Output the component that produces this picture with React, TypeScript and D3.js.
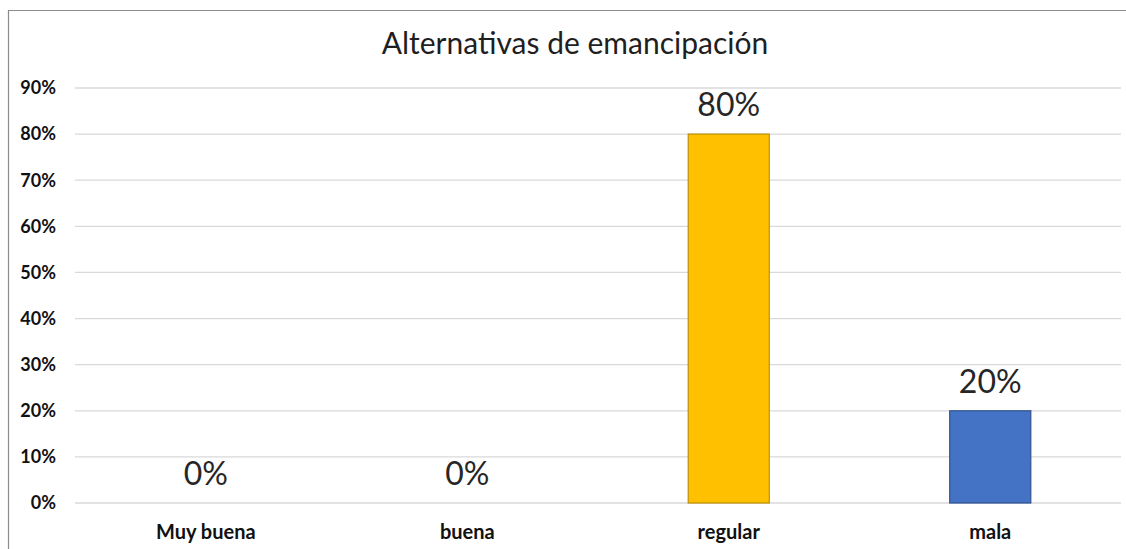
import React from "react";
import * as d3 from "d3";

const categories = ["Muy buena", "buena", "regular", "mala"];
const values = [0, 0, 0.8, 0.2];
const barColors = ["#FFC000", "#4472C4", "#FFC000", "#4472C4"];
const barStrokes = ["#BF9000", "#2F528F", "#BF9000", "#2F528F"];
const yTicks = [0, 0.1, 0.2, 0.3, 0.4, 0.5, 0.6, 0.7, 0.8, 0.9];
const title = "Alternativas de emancipación";

const W = 1126;
const H = 549;
const FONT = "Lato, 'Open Sans', sans-serif";

export default function App() {
  const left = 75;
  const right = 1121;
  const top = 88;
  const bottom = 503;

  const x = d3.scaleBand().domain(categories).range([left, right]).paddingInner(0.69).paddingOuter(0.345);
  const y = d3.scaleLinear().domain([0, 0.9]).range([bottom, top]);
  const pct = d3.format(".0%");

  return (
    <div style={{ position: "absolute", left: 0, top: 0 }}>
      <svg width={W} height={H} style={{ display: "block", background: "#fff" }}>
        {/* chart border */}
        <line x1={8} x2={W} y1={10.5} y2={10.5} stroke="#8c8c8c" strokeWidth={1.2} />
        <line x1={8.5} x2={8.5} y1={10} y2={H} stroke="#8c8c8c" strokeWidth={1.2} />

        <text x={575} y={54} textAnchor="middle" fontFamily={FONT} fontSize={30} fill="#1f1f1f">
          {title}
        </text>

        {yTicks.map(t => (
          <g key={t}>
            <line x1={left} x2={right} y1={y(t)} y2={y(t)} stroke="#d9d9d9" strokeWidth={1.3} />
            <text x={56} y={y(t)} dy="0.35em" textAnchor="end" fontFamily={FONT} fontWeight="bold" fontSize={18} fill="#111">
              {pct(t)}
            </text>
          </g>
        ))}

        {categories.map((c, i) => {
          const bx = x(c) as number;
          const by = y(values[i]);
          return (
            <g key={c}>
              {values[i] > 0 && (
                <rect
                  x={bx}
                  y={by}
                  width={x.bandwidth()}
                  height={bottom - by}
                  fill={barColors[i]}
                  stroke={barStrokes[i]}
                  strokeWidth={1.2}
                />
              )}
              <text
                x={bx + x.bandwidth() / 2}
                y={by - 18}
                textAnchor="middle"
                fontFamily={FONT}
                fontSize={32}
                fill="#262626"
              >
                {pct(values[i])}
              </text>
              <text
                x={bx + x.bandwidth() / 2}
                y={539}
                textAnchor="middle"
                fontFamily={FONT}
                fontWeight="bold"
                fontSize={20}
                fill="#111"
              >
                {c}
              </text>
            </g>
          );
        })}
      </svg>
    </div>
  );
}
